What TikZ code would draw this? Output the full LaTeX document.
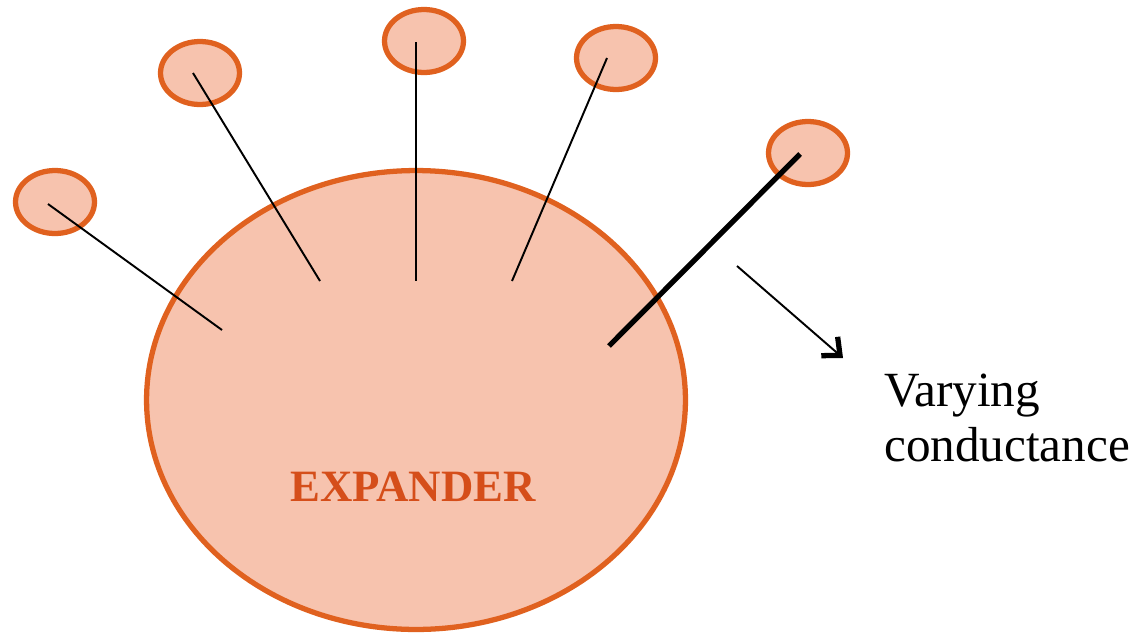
\documentclass[tikz,border=0pt]{standalone}
\usepackage{fontspec}
\setmainfont{Liberation Serif}
\usetikzlibrary{shapes.geometric,arrows.meta}
\definecolor{skin}{HTML}{F7C3AE}
\definecolor{rim}{HTML}{E0611F}
\definecolor{label}{HTML}{D54E1A}

\begin{document}
\begin{tikzpicture}[x=0.02cm,y=-0.02cm,
        hub/.style={ellipse,draw=rim,fill=skin,line width=3pt,minimum width=10.78cm,minimum height=9.18cm},
        leaf/.style={ellipse,draw=rim,fill=skin,line width=3pt,minimum width=1.58cm,minimum height=1.26cm,inner sep=0pt},
        wire/.style={line width=1.1pt},
        heavy/.style={line width=3pt}]
    \useasboundingbox (0,0) rectangle (1148,636);

    \node[hub] (X) at (416,400) {};
    \node[text=label,font=\bfseries\fontsize{25.5}{30}\selectfont] (T) at (413,487) {EXPANDER};

    \node[leaf] (L1) at (55,202) {};
    \node[leaf] (L2) at (200,73) {};
    \node[leaf] (L3) at (424,41) {};
    \node[leaf] (L4) at (616,58) {};
    \node[leaf] (L5) at (808,153) {};

    % inner ends of the spokes
    \coordinate (e1) at (222,330);
    \coordinate (e2) at (320,281);
    \coordinate (e3) at (416,281);
    \coordinate (e4) at (512,281);
    \coordinate (e5) at (609,346);

    \draw[wire] ([shift={(-7,2)}]L1.center) -- (e1);
    \draw[wire] ([shift={(-7,0)}]L2.center) -- (e2);
    \draw[wire] ([shift={(-8,1)}]L3.center) -- (e3);
    \draw[wire] ([shift={(-9,0)}]L4.center) -- (e4);
    \draw[heavy] ([shift={(-8,1)}]L5.center) -- (e5);

    \node[anchor=west,align=left,font=\fontsize{28}{31}\selectfont] (V) at (878,418) {Varying\\conductance};
    \coordinate (a0) at (737,266);
    \draw[line width=1.1pt,-{Straight Barb[length=2.8mm,width=5mm,line width=3pt]}] (a0) -- (843,358);

\end{tikzpicture}
\end{document}
